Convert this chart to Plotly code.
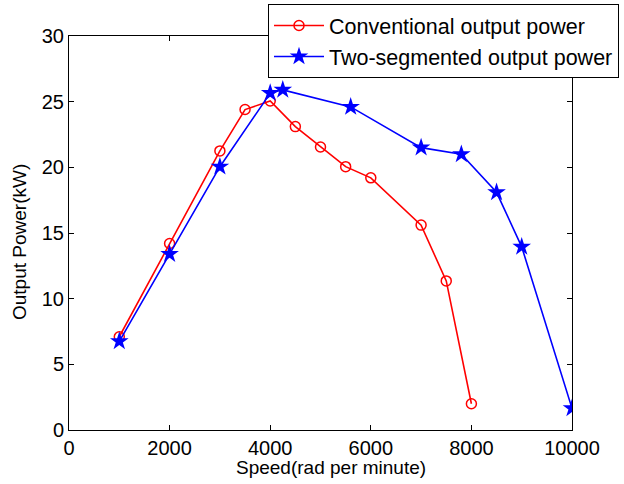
import plotly.graph_objects as go

# Speed (rad per minute) and output power (kW) for each design
conv_speed = [1000, 2000, 3000, 3500, 4000, 4500, 5000, 5500, 6000, 7000, 7500, 8000]
conv_power = [7.1, 14.2, 21.25, 24.4, 25.05, 23.1, 21.55, 20.05, 19.2, 15.6, 11.35, 2.0]

seg_speed = [1000, 2000, 3000, 4000, 4250, 5600, 7000, 7800, 8500, 9000, 10000]
seg_power = [6.75, 13.4, 20.05, 25.65, 25.9, 24.6, 21.5, 21.0, 18.1, 13.95, 1.65]

x_ticks = [0, 2000, 4000, 6000, 8000, 10000]
x_labels = ["0", "2000", "4000", "6000", "8000", "10000"]
y_ticks = [0, 5, 10, 15, 20, 25, 30]
y_labels = ["0", "5", "10", "15", "20", "25", "30"]

FONT = "Liberation Sans, Arial, sans-serif"
W, H = 624, 484
ML, MR, MT, MB = 69, 52, 36, 54
PW, PH = W - ML - MR, H - MT - MB


def px_x(p):
    return (p - ML) / PW


def px_y(p):
    return (H - MB - p) / PH


fig = go.Figure()
fig.add_trace(go.Scatter(
    x=conv_speed, y=conv_power, mode="lines+markers",
    name="Conventional output power",
    line=dict(color="#ff0000", width=1.6),
    marker=dict(symbol="circle-open", size=10, color="#ff0000", line=dict(width=1.5)),
))
fig.add_trace(go.Scatter(
    x=seg_speed, y=seg_power, mode="lines+markers",
    name="Two-segmented output power",
    line=dict(color="#0000ff", width=1.6),
    marker=dict(symbol="star", size=14, color="#0000ff", line=dict(width=0)),
))

axis_common = dict(
    showgrid=False, zeroline=False, showline=True, linecolor="black", linewidth=1,
    mirror="ticks", ticks="inside", ticklen=5, tickcolor="black", automargin=False,
    tickfont=dict(family=FONT, size=20, color="black"),
)

fig.update_layout(
    width=W, height=H,
    margin=dict(l=ML, r=MR, t=MT, b=MB, pad=0, autoexpand=False),
    paper_bgcolor="white", plot_bgcolor="white",
    font=dict(family=FONT, color="black"),
    xaxis=dict(range=[0, 10000], tickvals=x_ticks, ticktext=x_labels, **axis_common),
    yaxis=dict(range=[0, 30], tickvals=y_ticks, ticktext=y_labels, **axis_common),
    legend=dict(
        x=px_x(268), y=px_y(4), xanchor="left", yanchor="top",
        bgcolor="white", bordercolor="black", borderwidth=1,
        font=dict(family=FONT, size=21.5, color="black"),
        itemwidth=50, tracegroupgap=0,
    ),
    showlegend=True,
    annotations=[
        dict(text="Speed(rad per minute)", xref="paper", yref="paper",
             x=px_x(331), y=px_y(467), xanchor="center", yanchor="middle",
             showarrow=False, font=dict(family=FONT, size=19, color="black")),
        dict(text="Output Power(kW)", xref="paper", yref="paper",
             x=px_x(19), y=px_y(242), xanchor="center", yanchor="middle",
             textangle=-90, showarrow=False,
             font=dict(family=FONT, size=19, color="black")),
    ],
)

fig.write_html("out.html")
